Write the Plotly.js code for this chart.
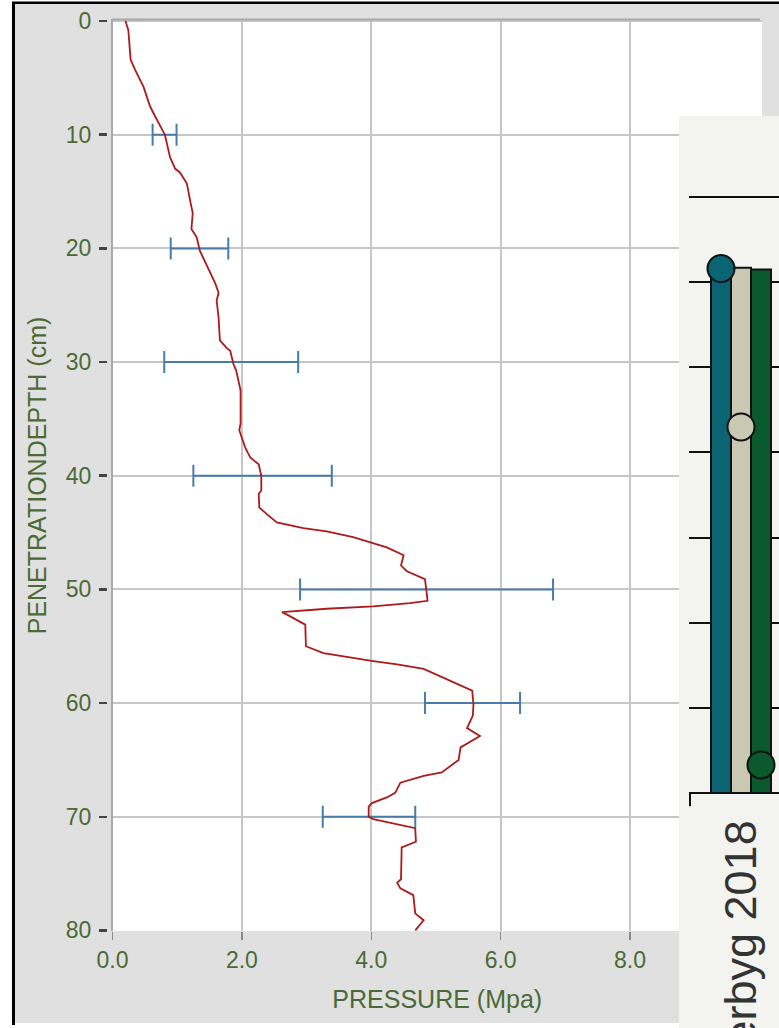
<!DOCTYPE html>
<html>
<head>
<meta charset="utf-8">
<script src="https://cdn.plot.ly/plotly-3.0.1.min.js"></script>
<style>
html,body{margin:0;padding:0;background:#ffffff;}
#chart{width:779px;height:1028px;}
</style>
</head>
<body>
<div id="chart"></div>
<script>
// ---------------- data ----------------
const pressure = [0.20,0.245,0.28,0.35,0.48,0.58,0.66,0.81,0.89,0.97,1.04,1.15,1.20,1.24,1.22,1.30,1.35,1.46,1.59,1.64,1.61,1.64,1.66,1.77,1.82,1.87,1.91,1.98,1.98,1.96,2.05,2.13,2.26,2.30,2.30,2.26,2.27,2.39,2.54,2.95,3.31,3.72,4.03,4.24,4.50,4.46,4.55,4.83,4.85,4.87,4.60,4.03,3.31,2.62,2.69,2.98,2.99,3.26,4.03,4.40,4.81,5.17,5.56,5.58,5.57,5.48,5.68,5.38,5.35,5.09,4.81,4.45,4.37,4.24,4.01,3.96,3.96,4.03,4.68,4.69,4.47,4.46,4.40,4.45,4.65,4.68,4.81,4.68];
const depth    = [0,0.8,3.4,4.3,5.8,7.5,8.4,10.0,12.0,13.0,13.3,14.3,15.8,16.9,18.3,19.0,20.2,21.6,23.1,23.9,24.6,26.1,28.1,28.8,29.0,30.2,30.7,32.5,35.4,36.0,37.5,38.4,39.0,40.0,41.3,41.6,42.8,43.4,44.1,44.6,44.9,45.4,45.9,46.3,47.0,47.9,48.4,49.1,50.0,51.0,51.2,51.5,51.7,52.0,52.2,53.1,55.0,55.6,56.3,56.6,57.0,57.9,58.9,60.1,61.1,62.2,62.9,63.9,65.0,66.1,66.4,67.0,67.9,68.3,68.8,69.1,70.0,70.2,71.0,72.2,72.7,75.5,75.8,76.3,76.9,78.5,79.1,80.0];

const errDepth = [10,20,30,40,50,60,70];
const errLow   = [0.62,0.90,0.80,1.25,2.90,4.83,3.25];
const errHigh  = [0.99,1.79,2.87,3.39,6.81,6.30,4.68];

const xTickVals = [0,2,4,6,8];
const xTickText = ['0.0','2.0','4.0','6.0','8.0'];
const yTickVals = [0,10,20,30,40,50,60,70,80];
const yTickText = ['0','10','20','30','40','50','60','70','80'];

// inset (partially visible second chart)
const insetCats   = ['S1','S2','S3'];
const insetBars   = [6.17,6.17,6.15];
const insetDots   = [6.16,4.30,0.33];
const insetColors = ['#0a6473','#c8c8b3','#0b5a2e'];
const insetGrid   = [1,2,3,4,5,6,7];
const insetLabel  = 'erbyg 2018';

// ---------------- helpers ----------------
const W = 779, H = 1028;
const PX = p => p / W;
const PY = p => 1 - p / H;
const F = 'Liberation Sans, Arial, sans-serif';
const TXT = '#4b6a36';

const errCenter = errLow.map((lo, i) => (lo + errHigh[i]) / 2);
const errPlus   = errHigh.map((hi, i) => hi - errCenter[i]);
const errMinus  = errLow.map((lo, i) => errCenter[i] - lo);

const traces = [
  {
    type: 'scatter', mode: 'markers',
    x: errCenter, y: errDepth,
    marker: {size: 1, color: 'rgba(0,0,0,0)'},
    error_x: {type: 'data', symmetric: false, array: errPlus, arrayminus: errMinus,
              color: '#4a7ba7', thickness: 2, width: 11},
    hoverinfo: 'skip', showlegend: false
  },
  {
    type: 'scatter', mode: 'lines',
    x: pressure, y: depth,
    line: {color: '#ad1a1a', width: 1.8},
    showlegend: false
  },
  { // panel placeholder subplot
    type: 'scatter', mode: 'markers', x: [], y: [],
    xaxis: 'x2', yaxis: 'y2', showlegend: false, hoverinfo: 'skip'
  },
  {
    type: 'bar', x: insetCats, y: insetBars,
    xaxis: 'x3', yaxis: 'y3',
    marker: {color: insetColors, line: {color: '#111111', width: 2}},
    showlegend: false
  },
  {
    type: 'scatter', mode: 'markers', x: insetCats, y: insetDots,
    xaxis: 'x3', yaxis: 'y3',
    marker: {size: 27, color: insetColors, line: {color: '#111111', width: 2}},
    cliponaxis: false, showlegend: false
  }
];

const layout = {
  width: W, height: H,
  margin: {l: 0, r: 0, t: 0, b: 0, pad: 0},
  paper_bgcolor: '#ffffff',
  plot_bgcolor: '#f3f3ef',
  showlegend: false,
  bargap: 0,
  font: {family: F},
  xaxis: {
    domain: [PX(112.5), PX(762)], range: [0, 10.04], anchor: 'y',
    tickmode: 'array', tickvals: xTickVals, ticktext: xTickText,
    ticks: 'outside', ticklen: 8, tickwidth: 1.5, tickcolor: '#8a8a8a',
    showgrid: true, gridcolor: '#c6c6c6', gridwidth: 2,
    zeroline: false, showline: false,
    tickfont: {family: F, size: 23, color: TXT},
    title: {text: 'PRESSURE (Mpa)', font: {family: F, size: 25, color: TXT}, standoff: 18}
  },
  yaxis: {
    domain: [PY(931), PY(20)], range: [80.05, -0.09],
    anchor: 'free', position: PX(107),
    tickmode: 'array', tickvals: yTickVals, ticktext: yTickText,
    ticks: 'outside', ticklen: 8, tickwidth: 2.5, tickcolor: '#444444',
    ticklabelstandoff: 3,
    showgrid: true, gridcolor: '#c6c6c6', gridwidth: 2,
    zeroline: false, showline: false,
    tickfont: {family: F, size: 23, color: TXT},
    title: {text: 'PENETRATIONDEPTH (cm)', font: {family: F, size: 25, color: TXT}, standoff: 11}
  },
  xaxis2: {domain: [PX(679), 1], range: [0, 1], anchor: 'y2',
           showgrid: false, zeroline: false, showticklabels: false, ticks: '', showline: false},
  yaxis2: {domain: [0, PY(116)], range: [0, 1], anchor: 'x2',
           showgrid: false, zeroline: false, showticklabels: false, ticks: '', showline: false},
  xaxis3: {domain: [PX(689), 1], type: 'category', range: [-1.6, 2.9], anchor: 'y3',
           showgrid: false, zeroline: false, showticklabels: false, ticks: '', showline: false},
  yaxis3: {domain: [0, PY(116)], range: [-2.760, 7.952], anchor: 'x3',
           tickmode: 'array', tickvals: insetGrid,
           showgrid: true, gridcolor: '#111111', gridwidth: 2,
           zeroline: true, zerolinecolor: '#111111', zerolinewidth: 2,
           showticklabels: false, ticks: '', showline: false},
  shapes: [
    // outer grey frame
    {type: 'rect', xref: 'paper', yref: 'paper', layer: 'below',
     x0: PX(14), x1: 1.01, y0: PY(1023), y1: PY(3), fillcolor: '#e0e0e0', line: {width: 0}},
    // black frame edges
    {type: 'rect', xref: 'paper', yref: 'paper', layer: 'below',
     x0: PX(12), x1: PX(15), y0: PY(1025), y1: PY(2), fillcolor: '#000000', line: {width: 0}},
    {type: 'rect', xref: 'paper', yref: 'paper', layer: 'below',
     x0: PX(12), x1: 1.01, y0: PY(4), y1: PY(1.5), fillcolor: '#000000', line: {width: 0}},
    // white plotting area of main chart
    {type: 'rect', xref: 'paper', yref: 'paper', layer: 'below',
     x0: PX(112), x1: PX(762), y0: PY(931), y1: PY(20), fillcolor: '#ffffff', line: {width: 0}},
    // grey plot borders (left, top)
    {type: 'line', xref: 'paper', yref: 'paper', layer: 'above',
     x0: PX(112), x1: PX(112), y0: PY(931), y1: PY(19), line: {color: '#a8a8a8', width: 2}},
    {type: 'line', xref: 'paper', yref: 'paper', layer: 'above',
     x0: PX(112), x1: PX(760), y0: PY(19.5), y1: PY(19.5), line: {color: '#a8a8a8', width: 2}},
    // inset panel top shadow
    {type: 'rect', xref: 'x2 domain', yref: 'y2 domain', layer: 'below',
     x0: 0, x1: 1, y0: 1 - 3 / 912, y1: 1, fillcolor: '#e2e2e2', line: {width: 0}},
    // inset axis end tick
    {type: 'line', xref: 'x3 domain', yref: 'y3', layer: 'above',
     x0: 0.011, x1: 0.011, y0: 0, y1: -0.155, line: {color: '#111111', width: 2}}
  ],
  annotations: [
    {text: insetLabel, xref: 'paper', yref: 'paper', x: PX(740), y: PY(819),
     xanchor: 'center', yanchor: 'top', textangle: -90, showarrow: false,
     font: {family: F, size: 45, color: '#333333'}}
  ]
};

Plotly.newPlot('chart', traces, layout, {staticPlot: true, displayModeBar: false});
</script>
</body>
</html>
